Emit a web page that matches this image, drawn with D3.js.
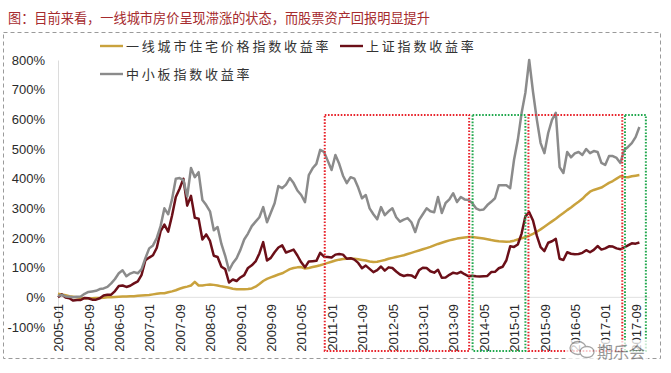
<!DOCTYPE html>
<html><head><meta charset="utf-8">
<script src="https://cdn.jsdelivr.net/npm/d3@7"></script>
<style>
html,body{margin:0;padding:0;background:#fff;}
svg{display:block;}
</style></head>
<body><svg id="c" width="671" height="373"></svg>
<script>
// ---- data ----
const startMonth = "2005-01";
const endMonth = "2017-10";
const tickLabels = ["2005-01","2005-09","2006-05","2007-01","2007-09","2008-05","2009-01","2009-09","2010-05","2011-01","2011-09","2012-05","2013-01","2013-09","2014-05","2015-01","2015-09","2016-05","2017-01","2017-09"];
const yTicks = [-100,0,100,200,300,400,500,600,700,800];
const seriesNames = ["一线城市住宅价格指数收益率","上证指数收益率","中小板指数收益率"];
const housing = [12,10,7,4,2,0,-2,-3,-3,-3,-2,-2,
 -1,0,0,1,2,3,3,4,4,5,6,7,
 8,10,12,14,14,17,20,24,29,33,36,40,
 52,40,40,42,43,42,40,37,35,32,29,27,
 27,27,28,30,36,45,55,62,67,72,77,81,
 88,95,99,101,102,97,99,102,105,108,112,116,
 120,124,127,129,130,131,130,128,126,124,121,119,
 120,123,126,130,133,136,139,142,146,150,154,158,
 162,166,170,175,180,184,188,192,195,198,200,202,
 203,203,202,200,198,196,193,191,189,188,187,188,
 191,195,199,203,208,214,221,229,238,247,256,265,
 275,284,294,303,313,322,332,345,356,362,366,370,
 378,386,392,400,408,406,405,408,410,412];
const shanghai = [0,10,-1,-3,-11,-9,-9,-2,-3,-8,-8,-3,
 6,9,9,21,38,40,35,39,47,54,76,125,
 134,142,167,223,245,221,275,338,366,400,309,342,
 268,265,195,212,190,140,136,103,95,50,60,55,
 67,75,99,108,121,148,186,124,133,152,168,175,
 151,156,161,141,118,101,121,122,123,150,137,136,
 134,144,146,144,130,132,127,116,98,107,96,85,
 92,104,90,101,99,87,77,72,75,74,66,91,
 100,99,88,83,93,66,67,76,83,80,86,78,
 71,73,71,70,71,72,85,86,98,103,125,172,
 170,178,215,273,287,259,208,169,156,184,189,197,
 130,126,152,147,145,146,150,159,152,160,173,161,
 165,172,171,165,162,168,175,182,181,185];
const smeBoard = [5,8,3,2,0,2,3,12,18,20,22,28,
 30,35,47,62,81,91,71,80,85,81,95,132,
 165,175,200,240,300,280,330,400,402,395,340,436,
 405,422,328,311,290,226,237,180,140,91,115,132,
 160,195,215,240,255,270,304,253,285,317,375,368,
 380,402,385,360,345,321,412,435,450,497,490,460,
 429,480,450,410,385,405,400,370,334,345,300,280,
 263,304,277,290,300,270,255,262,267,253,220,260,
 280,300,290,287,338,284,318,330,351,321,338,330,
 328,318,300,294,296,311,322,334,378,378,378,368,
 463,530,621,690,800,693,600,520,486,554,598,622,
 439,419,490,472,485,490,480,500,486,493,490,453,
 446,476,476,470,453,497,507,520,540,574];
// highlighted periods (month index from, to) and box top value
const boxFrom = [70.2, 109.1, 123.8, 149.2];
const boxTo = [108.2, 123.0, 148.5, 154.7];
const boxKind = ["red","green","red","green"];
const boxTop = 615;

// ---- chart ----
const fmt = d3.timeFormat("%Y-%m");
const parse = d3.timeParse("%Y-%m");
const months = d3.timeMonth.range(parse(startMonth), d3.timeMonth.offset(parse(endMonth),1)).map(fmt);

const svg = d3.select("#c");
svg.append("rect").attr("width",671).attr("height",373).attr("fill","#fff");

const x = d3.scalePoint().domain(months).range([58, 639.4]);
const xi = d3.scaleLinear().domain([0, months.length-1]).range([58, 639.4]);
const y = d3.scaleLinear().domain([-100, 800]).range([327, 60]);

const cjk = "'Noto Sans CJK SC','Noto Sans',sans-serif";
const latin = "'Liberation Sans',Arial,sans-serif";

// title
svg.append("text").attr("x",8).attr("y",23)
  .attr("font-family",cjk).attr("font-size",13.2).attr("fill","#a62b2e")
  .text("图：目前来看，一线城市房价呈现滞涨的状态，而股票资产回报明显提升");

// dashed frame
svg.append("rect").attr("x",3.5).attr("y",32.5).attr("width",657).attr("height",326)
  .attr("fill","none").attr("stroke","#9a9a9a").attr("stroke-width",1).attr("stroke-dasharray","4,3");

// y axis
const yAxis = svg.append("g").attr("transform","translate(58,0)")
  .call(d3.axisLeft(y).tickValues(yTicks).tickSize(0).tickSizeOuter(0).tickPadding(13)
    .tickFormat(d => (d<0?"-":"") + Math.abs(d) + "%"));
yAxis.select(".domain").attr("stroke","#dcdcdc");
yAxis.selectAll("text").attr("font-family",latin).attr("font-size",13).attr("fill","#2a2a2a");

// zero line
svg.append("line").attr("x1",58).attr("x2",650).attr("y1",y(0)).attr("y2",y(0))
  .attr("stroke","#e0e0e0").attr("stroke-width",1);

// x axis
const xAxis = svg.append("g").attr("transform","translate(0,300)")
  .call(d3.axisBottom(x).tickValues(tickLabels).tickSize(0));
xAxis.select(".domain").remove();
xAxis.selectAll("text").attr("transform","rotate(-90)").attr("text-anchor","end")
  .attr("x",-4).attr("y",0).attr("dy","0.36em")
  .attr("font-family",latin).attr("font-size",13).attr("fill","#2a2a2a");

// lines
const colors = ["#c9a23d","#6b0f18","#8b8b8b"];
const series = [housing, shanghai, smeBoard];
const line = d3.line().x((d,i)=>x(months[i])).y(d=>y(d));
series.forEach((s,k)=>{
  svg.append("path").datum(s).attr("d",line).attr("fill","none")
    .attr("stroke",colors[k]).attr("stroke-width",2.5).attr("stroke-linejoin","round");
});

// highlight boxes
const boxColor = {red:"#e8242c", green:"#21a84e"};
boxFrom.forEach((f,k)=>{
  const x0 = xi(f), x1 = xi(boxTo[k]);
  svg.append("rect").attr("x",x0).attr("y",y(boxTop)).attr("width",x1-x0).attr("height",351-y(boxTop))
    .attr("fill","none").attr("stroke",boxColor[boxKind[k]]).attr("stroke-width",2)
    .attr("stroke-dasharray","1.6,1.6");
});

// legend
const leg = [{x:100,y:46,k:0},{x:340,y:46,k:1},{x:100,y:74,k:2}];
leg.forEach(l=>{
  svg.append("line").attr("x1",l.x).attr("x2",l.x+23).attr("y1",l.y).attr("y2",l.y)
    .attr("stroke",colors[l.k]).attr("stroke-width",2.4);
  svg.append("text").attr("x",l.x+26).attr("y",l.y+4.5)
    .attr("font-family",cjk).attr("font-size",13).attr("letter-spacing","2.8px").attr("fill","#333")
    .text(seriesNames[l.k]);
});

// watermark
const wm = svg.append("g").attr("opacity",0.75);
wm.append("rect").attr("x",566).attr("y",340).attr("width",82).attr("height",19).attr("fill","#fff");
wm.append("ellipse").attr("cx",578).attr("cy",348).attr("rx",8).attr("ry",6.5).attr("fill","none").attr("stroke","#888").attr("stroke-width",1.3);
wm.append("ellipse").attr("cx",587).attr("cy",352).attr("rx",7).attr("ry",5.5).attr("fill","#fff").attr("stroke","#888").attr("stroke-width",1.3);
wm.append("text").attr("x",597).attr("y",358).attr("font-family",cjk).attr("font-size",16)
  .attr("fill","#777").text("期乐会");
</script></body></html>
